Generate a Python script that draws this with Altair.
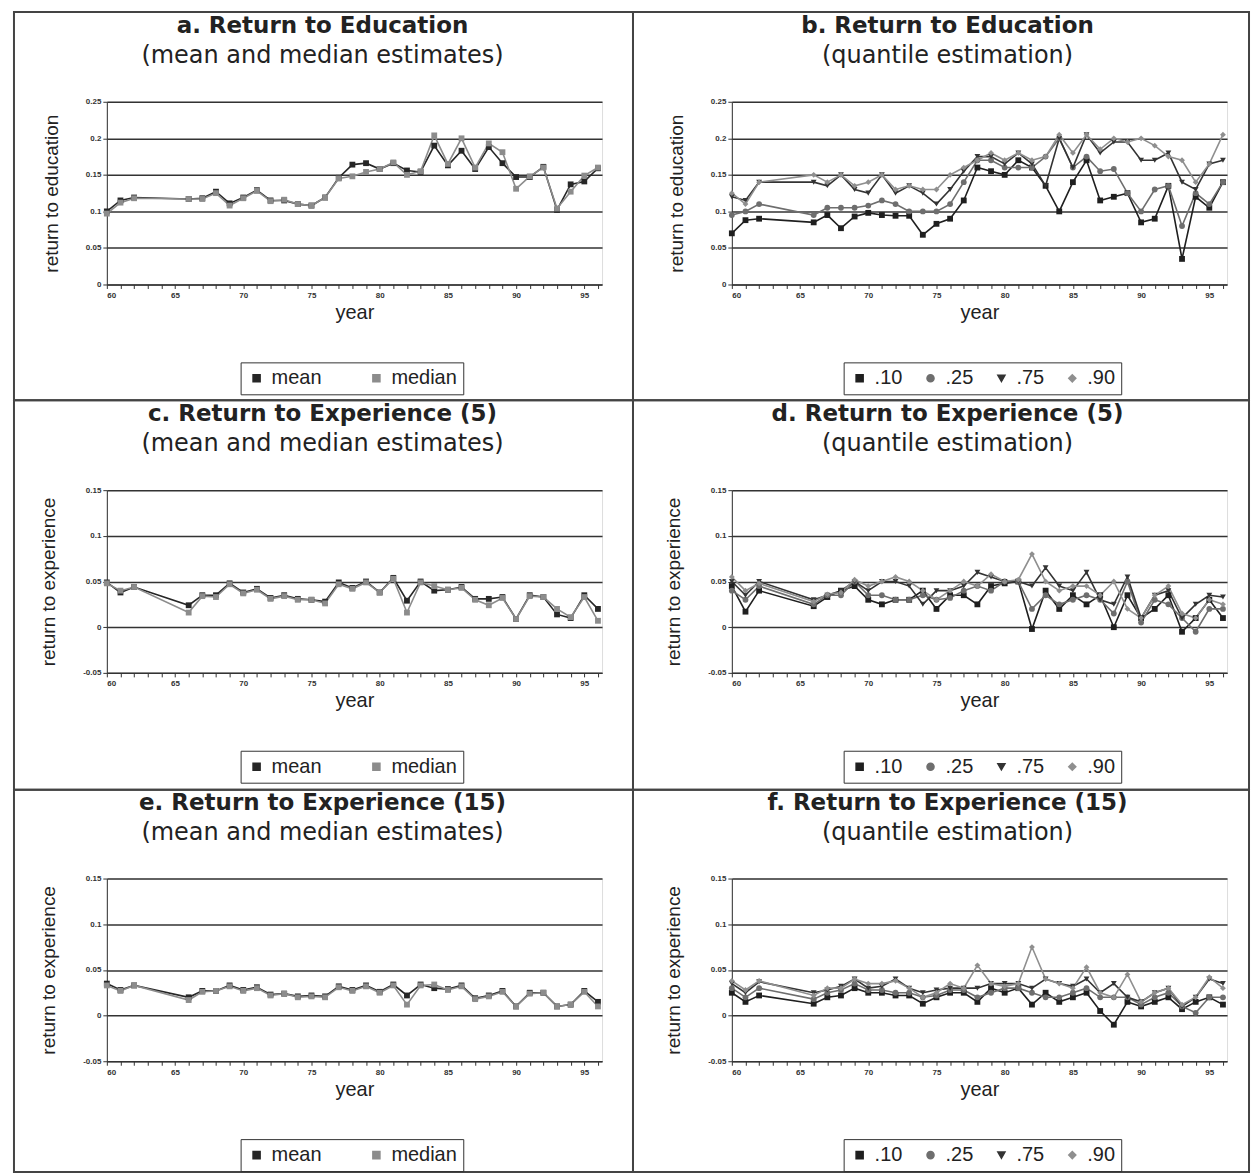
import altair as alt
import pandas as pd

years = [60, 61, 62] + list(range(66, 97))

# Panel a: return to education (mean / median)
edu_mean = [0.100, 0.115, 0.119, 0.117, 0.118, 0.127, 0.111, 0.119, 0.129, 0.115, 0.115, 0.110, 0.108, 0.119,
            0.146, 0.164, 0.166, 0.158, 0.166, 0.156, 0.154, 0.190, 0.163, 0.183, 0.158, 0.188, 0.166, 0.147,
            0.147, 0.161, 0.102, 0.137, 0.141, 0.159]
edu_median = [0.097, 0.112, 0.118, 0.117, 0.117, 0.125, 0.108, 0.118, 0.128, 0.114, 0.116, 0.110, 0.108, 0.119,
              0.145, 0.148, 0.154, 0.158, 0.167, 0.150, 0.155, 0.204, 0.165, 0.200, 0.160, 0.193, 0.181, 0.131,
              0.148, 0.160, 0.104, 0.127, 0.149, 0.160]

# Panel b: return to education (quantiles)
edu_q10 = [0.070, 0.088, 0.090, 0.085, 0.095, 0.077, 0.093, 0.098, 0.095, 0.094, 0.094, 0.068, 0.083, 0.090,
           0.115, 0.160, 0.155, 0.150, 0.170, 0.160, 0.135, 0.100, 0.140, 0.170, 0.115, 0.120, 0.125, 0.085,
           0.090, 0.135, 0.035, 0.120, 0.105, 0.140]
edu_q25 = [0.095, 0.100, 0.110, 0.095, 0.105, 0.105, 0.105, 0.108, 0.115, 0.110, 0.100, 0.100, 0.100, 0.110,
           0.140, 0.170, 0.170, 0.160, 0.160, 0.160, 0.175, 0.200, 0.160, 0.175, 0.155, 0.158, 0.125, 0.100,
           0.130, 0.135, 0.080, 0.125, 0.110, 0.140]
edu_q75 = [0.120, 0.115, 0.140, 0.140, 0.135, 0.150, 0.130, 0.125, 0.150, 0.125, 0.135, 0.125, 0.110, 0.130,
           0.155, 0.175, 0.175, 0.165, 0.180, 0.165, 0.135, 0.200, 0.160, 0.205, 0.180, 0.195, 0.195, 0.170,
           0.170, 0.180, 0.140, 0.130, 0.165, 0.170]
edu_q90 = [0.125, 0.110, 0.140, 0.150, 0.140, 0.150, 0.135, 0.140, 0.150, 0.130, 0.135, 0.130, 0.130, 0.150,
           0.160, 0.170, 0.180, 0.170, 0.180, 0.170, 0.175, 0.205, 0.180, 0.205, 0.185, 0.200, 0.195, 0.200,
           0.190, 0.175, 0.170, 0.140, 0.165, 0.205]

# Panel c: return to experience (5), mean / median
exp5_mean = [0.049, 0.038, 0.044, 0.024, 0.035, 0.035, 0.048, 0.038, 0.042, 0.032, 0.035, 0.031, 0.030, 0.028,
             0.049, 0.043, 0.050, 0.038, 0.054, 0.029, 0.050, 0.040, 0.041, 0.044, 0.031, 0.031, 0.033, 0.009,
             0.035, 0.033, 0.014, 0.010, 0.035, 0.020]
exp5_median = [0.048, 0.040, 0.044, 0.016, 0.034, 0.033, 0.047, 0.037, 0.041, 0.031, 0.034, 0.030, 0.030, 0.026,
               0.047, 0.042, 0.049, 0.038, 0.053, 0.016, 0.049, 0.045, 0.041, 0.043, 0.030, 0.024, 0.032, 0.009,
               0.034, 0.033, 0.020, 0.011, 0.033, 0.007]

# Panel d: return to experience (5), quantiles
exp5_q10 = [0.045, 0.017, 0.040, 0.023, 0.033, 0.040, 0.045, 0.030, 0.025, 0.030, 0.030, 0.040, 0.020, 0.035,
            0.035, 0.025, 0.045, 0.048, 0.050, -0.002, 0.040, 0.020, 0.035, 0.025, 0.035, 0.000, 0.035, 0.010,
            0.020, 0.035, -0.005, 0.010, 0.030, 0.010]
exp5_q25 = [0.040, 0.030, 0.045, 0.025, 0.035, 0.035, 0.050, 0.035, 0.035, 0.030, 0.030, 0.035, 0.030, 0.032,
            0.040, 0.045, 0.040, 0.050, 0.050, 0.020, 0.035, 0.025, 0.030, 0.035, 0.030, 0.015, 0.050, 0.005,
            0.030, 0.025, 0.010, -0.005, 0.020, 0.020]
exp5_q75 = [0.050, 0.035, 0.050, 0.030, 0.035, 0.040, 0.050, 0.040, 0.050, 0.050, 0.045, 0.025, 0.040, 0.040,
            0.045, 0.060, 0.055, 0.050, 0.050, 0.045, 0.065, 0.045, 0.040, 0.060, 0.030, 0.025, 0.055, 0.010,
            0.035, 0.040, 0.010, 0.025, 0.035, 0.033]
exp5_q90 = [0.055, 0.040, 0.048, 0.028, 0.036, 0.038, 0.052, 0.045, 0.050, 0.055, 0.050, 0.040, 0.030, 0.040,
            0.050, 0.045, 0.058, 0.050, 0.052, 0.080, 0.050, 0.040, 0.045, 0.045, 0.035, 0.050, 0.020, 0.010,
            0.035, 0.045, 0.015, 0.010, 0.030, 0.025]

# Panel e: return to experience (15), mean / median
exp15_mean = [0.035, 0.028, 0.033, 0.020, 0.027, 0.027, 0.033, 0.028, 0.031, 0.023, 0.024, 0.021, 0.022, 0.021,
              0.032, 0.028, 0.033, 0.026, 0.034, 0.022, 0.034, 0.030, 0.029, 0.033, 0.019, 0.022, 0.027, 0.010,
              0.025, 0.025, 0.010, 0.012, 0.027, 0.015]
exp15_median = [0.033, 0.027, 0.033, 0.017, 0.026, 0.027, 0.032, 0.027, 0.030, 0.022, 0.024, 0.020, 0.021, 0.020,
                0.031, 0.027, 0.032, 0.025, 0.033, 0.012, 0.033, 0.034, 0.028, 0.032, 0.018, 0.021, 0.026, 0.010,
                0.024, 0.025, 0.010, 0.012, 0.026, 0.010]

# Panel f: return to experience (15), quantiles
exp15_q10 = [0.025, 0.015, 0.022, 0.013, 0.020, 0.022, 0.030, 0.025, 0.025, 0.022, 0.022, 0.013, 0.020, 0.025,
             0.025, 0.015, 0.030, 0.025, 0.030, 0.012, 0.025, 0.015, 0.020, 0.025, 0.005, -0.010, 0.015, 0.010,
             0.015, 0.020, 0.007, 0.015, 0.020, 0.012]
exp15_q25 = [0.030, 0.020, 0.030, 0.018, 0.025, 0.028, 0.035, 0.028, 0.028, 0.025, 0.025, 0.020, 0.022, 0.028,
             0.028, 0.020, 0.025, 0.030, 0.030, 0.025, 0.020, 0.020, 0.025, 0.030, 0.020, 0.020, 0.020, 0.012,
             0.020, 0.025, 0.010, 0.003, 0.020, 0.020]
exp15_q75 = [0.035, 0.025, 0.037, 0.025, 0.028, 0.032, 0.040, 0.030, 0.032, 0.040, 0.030, 0.025, 0.028, 0.030,
             0.030, 0.030, 0.035, 0.035, 0.035, 0.030, 0.040, 0.035, 0.032, 0.040, 0.025, 0.035, 0.020, 0.015,
             0.025, 0.030, 0.010, 0.020, 0.040, 0.035]
exp15_q90 = [0.038, 0.028, 0.038, 0.022, 0.030, 0.030, 0.040, 0.035, 0.035, 0.038, 0.030, 0.020, 0.025, 0.035,
             0.030, 0.055, 0.035, 0.032, 0.035, 0.075, 0.040, 0.035, 0.030, 0.053, 0.025, 0.020, 0.045, 0.015,
             0.025, 0.030, 0.012, 0.020, 0.042, 0.030]

mm_names = ["mean", "median"]
mm_colors = ["#262626", "#8c8c8c"]
mm_shapes = ["square", "square"]
q_names = [".10", ".25", ".75", ".90"]
q_colors = ["#1f1f1f", "#6e6e6e", "#333333", "#8f8f8f"]
q_shapes = ["square", "circle", "triangle-down", "diamond"]

edu_ticks = [0, 0.05, 0.1, 0.15, 0.2, 0.25]
exp_ticks = [-0.05, 0, 0.05, 0.1, 0.15]

FONT = "Liberation Sans"
TFONT = "DejaVu Sans"

# cell frames relative to each plot's origin (left col, right col) and rows
col_frames = [(-93, 527), (-99, 518)]
row_frames = [(-90, 299), (-90, 300), (-89, 294)]
legend_x = [134, 112]
legend_colpad = [44, 18]


def long_df(names, series):
    rows = []
    for n, vals in zip(names, series):
        for yr, v in zip(years, vals):
            rows.append({"year": yr, "value": v, "series": n})
    return pd.DataFrame(rows)


def panel(names, series, colors, shapes, ydomain, yticks, ytitle, title, subtitle, col, row):
    df = long_df(names, series)
    leg = alt.Legend(title=None, orient="none", legendX=legend_x[col], legendY=261,
                     direction="horizontal", columns=len(names), strokeColor="#333",
                     padding=6, labelFontSize=20, labelFont=FONT, labelColor="#222",
                     symbolSize=50, columnPadding=legend_colpad[col], labelOffset=5,
                     symbolStrokeWidth=1.5)
    color = alt.Color("series:N", scale=alt.Scale(domain=names, range=colors), legend=leg)
    shape = alt.Shape("series:N", scale=alt.Scale(domain=names, range=shapes), legend=leg)
    x = alt.X("year:Q", scale=alt.Scale(domain=[60, 96.3], nice=False, zero=False),
              axis=alt.Axis(values=list(range(60, 97)), format="d",
                            labelExpr="datum.value % 5 == 0 ? datum.label : ''",
                            title="year", titleFontSize=20, titleFontWeight="normal", titleFont=FONT,
                            titleColor="#222", labelFontSize=8, labelFontWeight="bold", labelFont=FONT,
                            labelColor="#333", grid=False, tickSize=4, tickColor="#333",
                            domainColor="#333", labelPadding=3, titlePadding=3))
    y = alt.Y("value:Q", scale=alt.Scale(domain=ydomain, nice=False, zero=False),
              axis=alt.Axis(values=yticks, labelExpr="'' + datum.value", title=ytitle, titleFontSize=19,
                            titleFontWeight="normal", titleFont=FONT, titleColor="#222",
                            labelFontSize=8, labelFontWeight="bold", labelFont=FONT, labelColor="#333",
                            grid=True, gridColor="#333", gridWidth=1.5, tickSize=4, tickColor="#333",
                            domainColor="#333", titlePadding=24))
    base = alt.Chart(df)
    lines = base.mark_line(strokeWidth=1.6).encode(x=x, y=y, color=color, detail="series:N")
    pts = base.mark_point(filled=True, size=34, opacity=1).encode(x=x, y=y, color=color, shape=shape)
    fx0, fx1 = col_frames[col]
    fy0, fy1 = row_frames[row]
    frame = alt.Chart(pd.DataFrame({"k": [0]})).mark_rect(
        fillOpacity=0, stroke="#444", strokeWidth=2
    ).encode(x=alt.value(fx0), x2=alt.value(fx1), y=alt.value(fy0), y2=alt.value(fy1))
    return alt.layer(frame, lines, pts).properties(
        width=496, height=183,
        title=alt.TitleParams(text=title, subtitle=subtitle, font=TFONT, fontSize=23,
                              fontWeight="bold", color="#222", subtitleFont=TFONT,
                              subtitleFontSize=24, subtitleColor="#222", anchor="middle",
                              frame="group", dx=-32, offset=-57 + (fy0 + 90), subtitlePadding=6),
    )


pa = panel(mm_names, [edu_mean, edu_median], mm_colors, mm_shapes, [0, 0.25], edu_ticks,
           "return to education", "a. Return to Education", "(mean and median estimates)", 0, 0)
pb = panel(q_names, [edu_q10, edu_q25, edu_q75, edu_q90], q_colors, q_shapes, [0, 0.25], edu_ticks,
           "return to education", "b. Return to Education", "(quantile estimation)", 1, 0)
pc = panel(mm_names, [exp5_mean, exp5_median], mm_colors, mm_shapes, [-0.05, 0.15], exp_ticks,
           "return to experience", "c. Return to Experience (5)", "(mean and median estimates)", 0, 1)
pd_ = panel(q_names, [exp5_q10, exp5_q25, exp5_q75, exp5_q90], q_colors, q_shapes, [-0.05, 0.15], exp_ticks,
            "return to experience", "d. Return to Experience (5)", "(quantile estimation)", 1, 1)
pe = panel(mm_names, [exp15_mean, exp15_median], mm_colors, mm_shapes, [-0.05, 0.15], exp_ticks,
           "return to experience", "e. Return to Experience (15)", "(mean and median estimates)", 0, 2)
pf = panel(q_names, [exp15_q10, exp15_q25, exp15_q75, exp15_q90], q_colors, q_shapes, [-0.05, 0.15], exp_ticks,
           "return to experience", "f. Return to Experience (15)", "(quantile estimation)", 1, 2)

chart = alt.concat(pa, pb, pc, pd_, pe, pf, columns=2, spacing={"row": 206, "column": 130},
                   bounds="flush").resolve_scale(color="independent", shape="independent").properties(
    padding={"left": 12, "top": 9, "right": 5, "bottom": 4}
).configure_view(stroke="#333", strokeWidth=1.5).configure(background="white")

chart.save("out.html", embed_options={"renderer": "svg", "actions": False})
